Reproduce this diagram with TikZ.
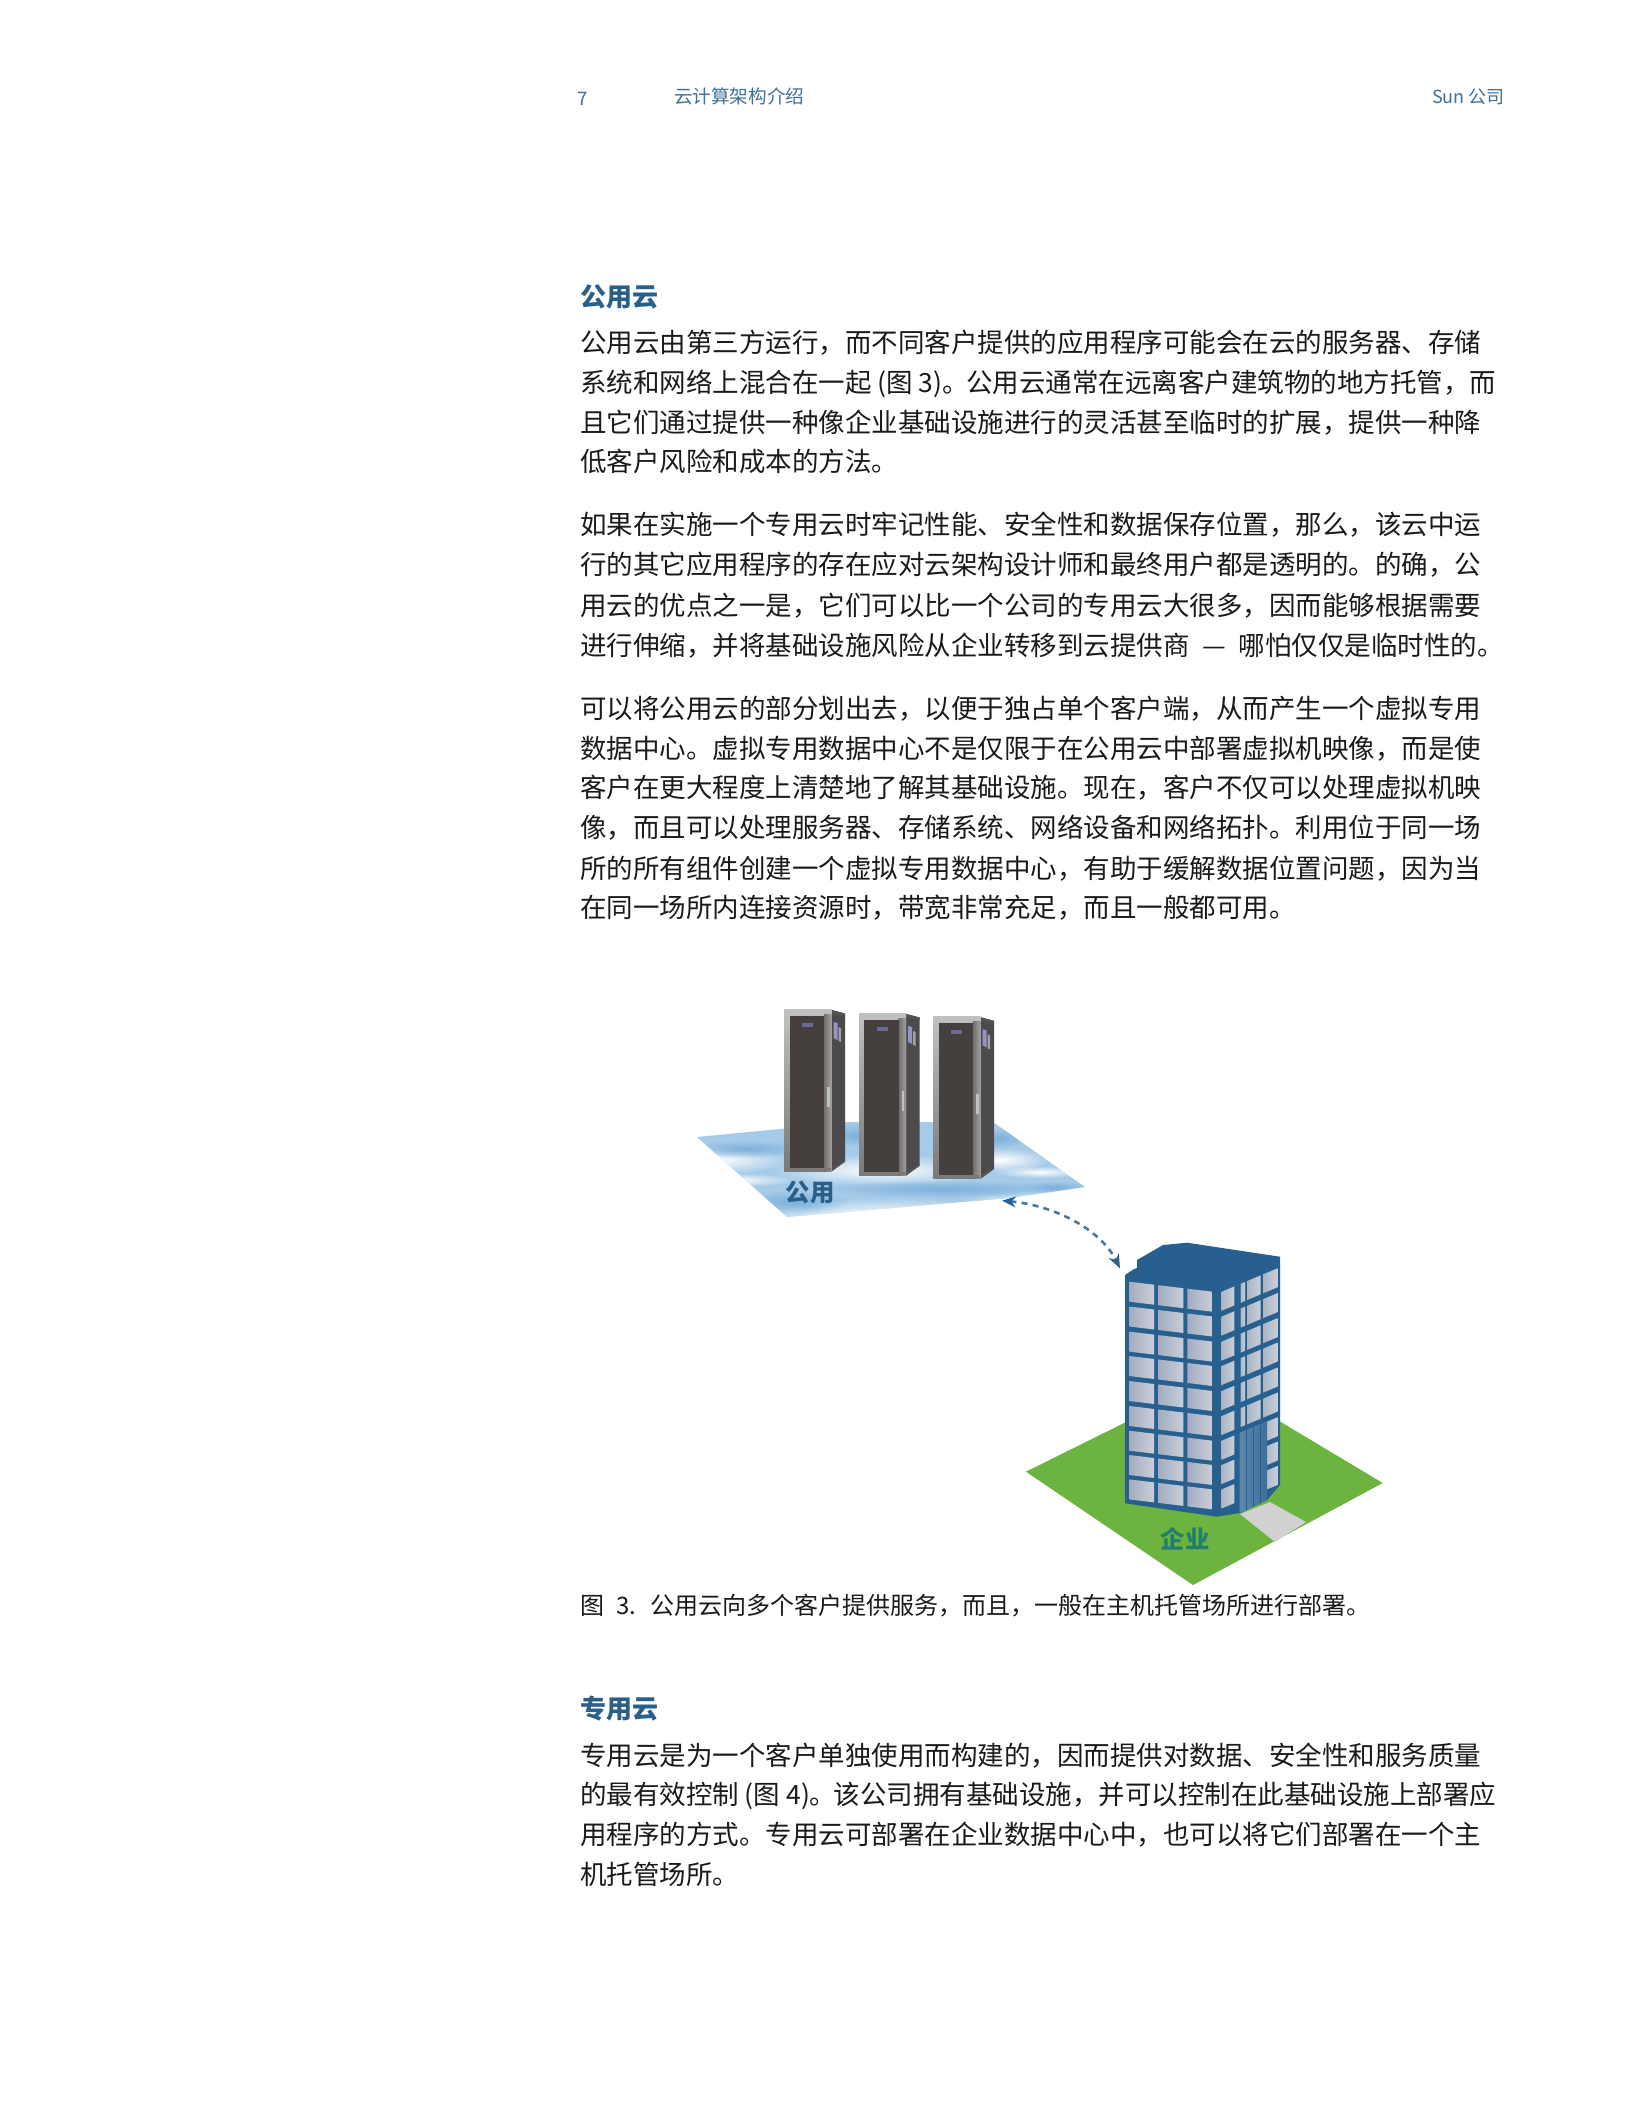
\documentclass[tikz,border=0pt]{standalone}
\usepackage{fontspec}
\setmainfont{Noto Sans CJK SC}
\usetikzlibrary{fadings,arrows.meta}
\definecolor{headblue}{HTML}{3E7199}
\definecolor{titleblue}{HTML}{2A5F8A}
\definecolor{bodyink}{HTML}{1A1A1A}
\definecolor{bldblue}{HTML}{27608F}
\definecolor{bldgreen}{HTML}{6CB33F}
\definecolor{cloudblue}{HTML}{A6CBE8}
\definecolor{cloudmid}{HTML}{7DB0DA}
\definecolor{srvdark}{HTML}{453F3E}
\definecolor{srvside}{HTML}{4C4A4C}
\definecolor{srvframe}{HTML}{979797}
\definecolor{winlight}{HTML}{A3ADBF}
\definecolor{windark}{HTML}{C9CFD9}
\tikzfading[name=softedge,inner color=transparent!0,outer color=transparent!100]
\tikzset{
  x=0.5pt,y=-0.5pt,
  txt/.style={anchor=base west,inner sep=0pt,outer sep=0pt,text=bodyink,font=\fontsize{13.25pt}{16pt}\selectfont},
  hdr/.style={anchor=base west,inner sep=0pt,outer sep=0pt,text=headblue,font=\fontsize{9.3pt}{11pt}\selectfont},
  ttl/.style={anchor=base west,inner sep=0pt,outer sep=0pt,text=titleblue,font=\fontsize{13pt}{16pt}\selectfont\bfseries},
  captxt/.style={anchor=base west,inner sep=0pt,outer sep=0pt,text=bodyink,font=\fontsize{12pt}{14pt}\selectfont},
  soft/.style={path fading=softedge,fit fading=true},
}
\newcommand{\srv}[2]{%
  \begin{scope}[shift={(#1,#2)}]
    \fill[srvside] (829,1009.3) -- (845,1013.5) -- (845,1161.7) -- (831,1171) -- cycle;
    \fill[srvframe!55!black] (829,1009.3) -- (845,1013.5) -- (845,1016) -- (829,1013) -- cycle;
    \fill[srvdark!90!white] (831,1172) -- (845,1161.7) -- (845,1160) -- (831,1168) -- cycle;
    \shade[top color=srvframe!60!white,bottom color=srvframe!80!black] (784.3,1009.3) rectangle (831.5,1171);
    \shade[left color=srvdark!75!white,right color=srvframe!90!white] (824,1014) rectangle (831.5,1171);
    \fill[srvdark] (789.5,1016) rectangle (824,1168);
    \fill[srvdark!70!white] (784.3,1168) rectangle (831,1171);
    \fill[srvside!75!blue!75!white] (802,1023) rectangle (813,1027);
    \fill[srvframe!60!white] (827,1087) rectangle (829.5,1107);
    \fill[srvframe!75!blue!75!white] (833.5,1022) -- (837.5,1023) -- (837.5,1040) -- (833.5,1038) -- cycle;
    \fill[srvframe!90!white] (838.5,1027) -- (841,1028) -- (841,1042) -- (838.5,1041) -- cycle;
  \end{scope}}
\begin{document}
\begin{tikzpicture}
\path[use as bounding box,fill=white] (0,0) rectangle (1631,2111);
% header
\node[hdr] (pg) at (577,105) {7};
\node[hdr] (doc) at (674,103) {云计算架构介绍};
\node[hdr,font=\fontsize{9pt}{11pt}\selectfont] (co) at (1432,103) {Sun 公司};
% section one
\node[ttl] (t1) at (580,306) {公用云};
\node[txt] (a1) at (580,352) {公用云由第三方运行，而不同客户提供的应用程序可能会在云的服务器、存储};
\node[txt] (a2) at (580,392) {系统和网络上混合在一起 (图 3)。\hspace{-1.3pt}公用云通常在远离客户建筑物的地方托管，而};
\node[txt] (a3) at (580,432) {且它们通过提供一种像企业基础设施进行的灵活甚至临时的扩展，提供一种降};
\node[txt] (a4) at (580,471) {低客户风险和成本的方法。};
\node[txt] (b1) at (580,534) {如果在实施一个专用云时牢记性能、安全性和数据保存位置，那么，该云中运};
\node[txt] (b2) at (580,574) {行的其它应用程序的存在应对云架构设计师和最终用户都是透明的。的确，公};
\node[txt] (b3) at (580,615) {用云的优点之一是，它们可以比一个公司的专用云大很多，因而能够根据需要};
\node[txt] (b4) at (580,655) {进行伸缩，并将基础设施风险从企业转移到云提供商\hspace{3.4pt} — \hspace{3.4pt}哪怕仅仅是临时性的。};
\node[txt] (c1) at (580,718) {可以将公用云的部分划出去，以便于独占单个客户端，从而产生一个虚拟专用};
\node[txt] (c2) at (580,758) {数据中心。虚拟专用数据中心不是仅限于在公用云中部署虚拟机映像，而是使};
\node[txt] (c3) at (580,797) {客户在更大程度上清楚地了解其基础设施。现在，客户不仅可以处理虚拟机映};
\node[txt] (c4) at (580,837) {像，而且可以处理服务器、存储系统、网络设备和网络拓扑。利用位于同一场};
\node[txt] (c5) at (580,878) {所的所有组件创建一个虚拟专用数据中心，有助于缓解数据位置问题，因为当};
\node[txt] (c6) at (580,917) {在同一场所内连接资源时，带宽非常充足，而且一般都可用。};
% cloud plane
\begin{scope}
  \clip (697,1137) -- (790,1128) -- (847,1122) -- (993,1122) -- (1085,1187) -- (1010,1198) -- (787,1217) -- cycle;
  \fill[cloudblue] (680,1110) rectangle (1100,1230);
  \fill[soft,white] (715,1160) ellipse (75 and 14);
  \fill[soft,white] (735,1180) ellipse (60 and 7);
  \fill[soft,white] (880,1170) ellipse (110 and 16);
  \fill[soft,white] (1000,1160) ellipse (50 and 12);
  \fill[soft,white] (890,1216) ellipse (150 and 18);
  \fill[soft,white] (1045,1202) ellipse (85 and 12);
  \fill[soft,white] (1040,1172) ellipse (45 and 6);
  \fill[soft,cloudmid] (795,1202) ellipse (55 and 12);
  \fill[soft,cloudmid] (945,1189) ellipse (125 and 9);
  \fill[soft,cloudmid] (1055,1187) ellipse (35 and 6);
  \fill[soft,cloudmid] (745,1149) ellipse (60 and 9);
  \fill[soft,cloudmid] (860,1135) ellipse (45 and 12);
  \fill[soft,cloudmid] (1000,1138) ellipse (30 and 10);
\end{scope}
\srv{0}{0}
\srv{74.7}{4}
\srv{149}{7.3}
\node[font=\fontsize{12.2pt}{14pt}\selectfont\bfseries,text=titleblue,inner sep=0pt] (pub) at (810,1192) {公用};
% ground
\fill[bldgreen] (1026,1471.7) -- (1210.7,1380) -- (1382.7,1483) -- (1193,1585) -- cycle;
\fill[black!18] (1240,1514) -- (1270,1502) -- (1306,1522) -- (1275,1542) -- cycle;
% building
\fill[bldblue] (1125,1275) -- (1134,1269) -- (1137,1268) -- (1137,1260) -- (1163,1245) -- (1187,1242.7) -- (1280,1256.7)
  -- (1280,1485) -- (1267,1500) -- (1240,1513) -- (1217,1516.7) -- (1125,1503.3) -- cycle;
\foreach \r in {0,24.8,49.9,74.3,99.3,124.3,149,173.3,197.7}{
  \foreach \a/\b in {1129.3/1154,1158.3/1183.3,1187.3/1212.7}{
    \shade[left color=winlight,right color=windark] (\a,{1281.7+\r+(\a-1129.3)*.12}) -- (\b,{1281.7+\r+(\b-1129.3)*.12})
      -- (\b,{1301.7+\r+(\b-1129.3)*.12}) -- (\a,{1301.7+\r+(\a-1129.3)*.12}) -- cycle;
  }
  \foreach \a/\b in {1221.7/1234.3,1240.7/1245,1247.3/1260.7,1263.3/1277.7}{
    \shade[left color=winlight!90!white,right color=windark] (\a,{1291.7+\r-(\a-1221.7)*.42}) -- (\b,{1291.7+\r-(\b-1221.7)*.42})
      -- (\b,{1310.7+\r-(\b-1221.7)*.42}) -- (\a,{1310.7+\r-(\a-1221.7)*.42}) -- cycle;
  }
}
\shade[left color=bldblue!75!white,right color=bldblue!90!white] (1239.5,1433) -- (1267,1421.7) -- (1267,1500) -- (1239.5,1513) -- cycle;
\foreach \s in {1246,1253,1260}{
  \draw[bldblue,line width=0.4pt] (\s,{1433-(\s-1239.5)*.41}) -- (\s,{1513-(\s-1239.5)*.47});
}
\node[font=\fontsize{12.2pt}{14pt}\selectfont\bfseries,text=titleblue!80!green,inner sep=0pt] (ent) at (1185,1539) {企业};
% connector
\coordinate (pubEnd) at (1002,1200.7);
\coordinate (entEnd) at (1120,1268.3);
\draw[bldblue!85!white,line width=1.3pt,dash pattern=on 3pt off 2.6pt,{Stealth[length=7pt,width=5.5pt,bldblue]}-{Stealth[length=7pt,width=5.5pt,bldblue]}]
  (pubEnd) .. controls (1052,1205) and (1100,1228) .. (entEnd);
% caption
\node[captxt] (f3) at (580,1614) {图\hspace{6pt}3.\hspace{7.4pt}公用云向多个客户提供服务，而且，一般在主机托管场所进行部署。};
% section two
\node[ttl] (t2) at (580,1718) {专用云};
\node[txt] (d1) at (580,1765) {专用云是为一个客户单独使用而构建的，因而提供对数据、安全性和服务质量};
\node[txt] (d2) at (580,1804) {的最有效控制 (图 4)。\hspace{-1.3pt}该公司拥有基础设施，并可以控制在此基础设施上部署应};
\node[txt] (d3) at (580,1844) {用程序的方式。专用云可部署在企业数据中心中，也可以将它们部署在一个主};
\node[txt] (d4) at (580,1884) {机托管场所。};
\end{tikzpicture}
\end{document}
